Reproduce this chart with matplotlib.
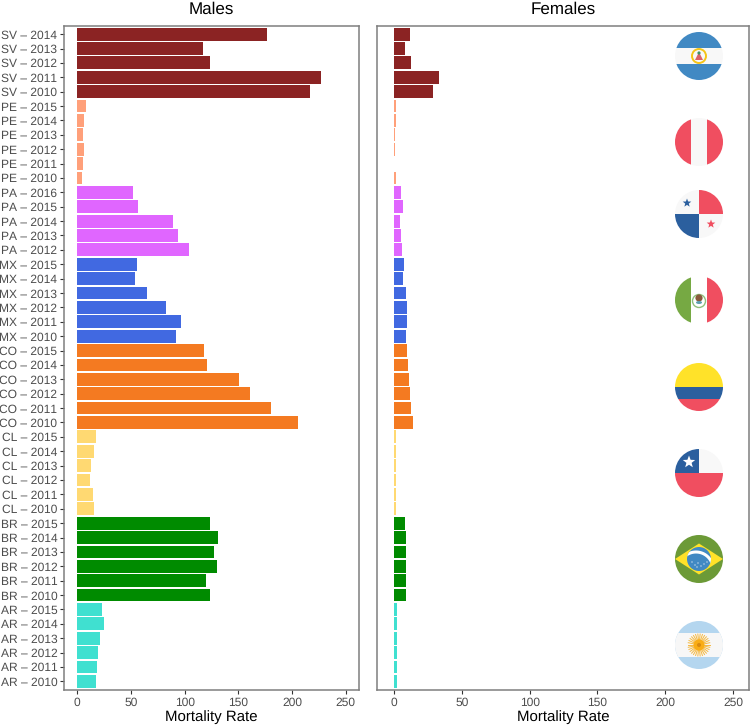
import numpy as np
import matplotlib
matplotlib.use("Agg")
import matplotlib.pyplot as plt
from matplotlib.patches import Circle, Rectangle, Polygon, Ellipse

plt.rcParams['font.family'] = ['Liberation Sans', 'DejaVu Sans']
plt.rcParams['text.hinting'] = 'no_hinting'
plt.rcParams['text.hinting_factor'] = 1

# top to bottom, as in the picture
countries = ["SV", "PE", "PA", "MX", "CO", "CL", "BR", "AR"]
colors = ["#8b2323", "#ffa07a", "#e066ff", "#4169e1",
          "#f47a21", "#ffd972", "#008b00", "#40e0d0"]
years = [
    [2014, 2013, 2012, 2011, 2010],
    [2015, 2014, 2013, 2012, 2011, 2010],
    [2016, 2015, 2014, 2013, 2012],
    [2015, 2014, 2013, 2012, 2011, 2010],
    [2015, 2014, 2013, 2012, 2011, 2010],
    [2015, 2014, 2013, 2012, 2011, 2010],
    [2015, 2014, 2013, 2012, 2011, 2010],
    [2015, 2014, 2013, 2012, 2011, 2010],
]
males = [
    [177, 117, 124, 227, 217],
    [8.5, 6, 5, 6.5, 5, 4.5],
    [52, 57, 89, 94, 104],
    [56, 54, 65, 83, 97, 92],
    [118, 121, 151, 161, 180, 206],
    [17, 16, 13, 12, 15, 15.5],
    [124, 131, 127, 130, 120, 124],
    [23, 24.5, 21, 19.5, 18, 17],
]
females = [
    [11.5, 8, 12.5, 33.5, 29],
    [1.2, 1.5, 0.8, 0.7, 0.3, 1.2],
    [5.5, 6.5, 4.5, 5, 6],
    [7.5, 7, 8.5, 9.5, 9.5, 8.5],
    [9.5, 10, 11, 11.5, 12.5, 14],
    [1.2, 1.3, 1.5, 1.4, 1.3, 1.3],
    [8, 8.5, 8.5, 8.5, 8.5, 8.5],
    [2.5, 2.5, 2, 2, 2.5, 2.5],
]

labels = [f"{c} \u2013 {y}" for c, ys in zip(countries, years) for y in ys]
bar_colors = [col for col, ys in zip(colors, years) for _ in ys]
male_vals = [v for vs in males for v in vs]
female_vals = [v for vs in females for v in vs]
rows = np.arange(len(labels))[::-1]

W, H = 750, 725
fig = plt.figure(figsize=(W / 100, H / 100), dpi=100)


def panel(x0, x1, xlim, vals, title, show_labels):
    ax = fig.add_axes([x0 / W, 1 - 690 / H, (x1 - x0) / W, (690 - 25.5) / H])
    ax.barh(rows, vals, height=0.89, color=bar_colors, linewidth=0)
    ax.set_xlim(*xlim)
    ax.set_ylim(-0.6, len(labels) - 0.4)
    ax.set_xticks([0, 50, 100, 150, 200, 250])
    ax.tick_params(axis="x", length=3, width=0.8, color="#333333",
                   labelcolor="#4d4d4d", labelsize=8.8, pad=2)
    if show_labels:
        ax.set_yticks(rows)
        ax.set_yticklabels(labels)
        ax.tick_params(axis="y", length=3, width=0.8, color="#333333",
                       labelcolor="#4d4d4d", labelsize=8.3, pad=2)
    else:
        ax.set_yticks([])
    for s in ax.spines.values():
        s.set_color("#7f7f7f")
        s.set_linewidth(1.1)
    ax.set_xlabel("Mortality Rate", fontsize=10.6, color="black", labelpad=1.5)
    ax.set_title(title, fontsize=12, color="black", pad=8.3)
    return ax


panel(64.4, 359, (-12, 262.4), male_vals, "Males", True)
panel(377.3, 749.3, (-12.3, 262), female_vals, "Females", False)

# --- flags, drawn on an overlay in pixel coordinates
ov = fig.add_axes([0, 0, 1, 1], zorder=5)
ov.set_xlim(0, W)
ov.set_ylim(H, 0)
ov.axis("off")
R = 24
cx = 699


def star(x, y, r, color, z=3):
    t = np.deg2rad(-90 + 36 * np.arange(10))
    rr = np.where(np.arange(10) % 2 == 0, r, r * 0.42)
    ov.add_patch(Polygon(np.c_[x + rr * np.cos(t), y + rr * np.sin(t)],
                         color=color, lw=0, zorder=z))


def flag(cy, shapes):
    clip = Circle((cx, cy), R, transform=ov.transData)
    for xy, w, h, c in shapes:
        r = Rectangle((cx + xy[0], cy + xy[1]), w, h, color=c, lw=0, zorder=2)
        ov.add_patch(r)
        r.set_clip_path(clip)


white = "#f8f8f8"
red = "#f04e60"
blue = "#2b5f9e"

# SV
flag(56, [((-R, -R), 2 * R, 16, "#4189c3"), ((-R, -8), 2 * R, 16, white),
          ((-R, 8), 2 * R, 16, "#4189c3")])
ov.add_patch(Circle((cx, 56), 7, fc="none", ec="#f5c518", lw=1.4, zorder=3))
ov.add_patch(Polygon([(cx - 4, 60), (cx + 4, 60), (cx, 52)], color="#d9626a", lw=0, zorder=3))
ov.add_patch(Circle((cx, 53), 1.6, color="#3f8f6a", lw=0, zorder=4))

# PE
flag(142, [((-R, -R), 16, 2 * R, red), ((-8, -R), 16, 2 * R, white),
           ((8, -R), 16, 2 * R, red)])

# PA
flag(214, [((-R, -R), R, R, white), ((0, -R), R, R, red),
           ((-R, 0), R, R, blue), ((0, 0), R, R, white)])
star(cx - 12, 203, 4.5, blue)
star(cx + 12, 224, 4.5, red)

# MX
flag(300, [((-R, -R), 16, 2 * R, "#76a943"), ((-8, -R), 16, 2 * R, "white"),
           ((8, -R), 16, 2 * R, red)])
ov.add_patch(Circle((cx, 301), 6.5, fc="none", ec="#8fbf7a", lw=1, zorder=3))
ov.add_patch(Circle((cx, 298), 3.6, color="#8a5a3c", lw=0, zorder=4))
ov.add_patch(Ellipse((cx, 302.5), 6, 3, color="#5c9fb0", lw=0, zorder=4))

# CO
flag(387, [((-R, -R), 2 * R, R, "#ffe229"), ((-R, 0), 2 * R, 12, blue),
           ((-R, 12), 2 * R, 12, red)])

# CL
flag(473, [((-R, -R), R, R, blue), ((0, -R), R, R, white),
           ((-R, 0), 2 * R, R, red)])
star(cx - 10, 462, 6.5, "white")

# BR
flag(559, [((-R, -R), 2 * R, 2 * R, "#6c9a37")])
d = Polygon([(cx - R, 559), (cx, 559 - 15.5), (cx + R, 559), (cx, 559 + 15.5)],
            color="#ffe229", lw=0, zorder=3)
ov.add_patch(d)
d.set_clip_path(Circle((cx, 559), R, transform=ov.transData))
ov.add_patch(Circle((cx, 559), 12, color="#4189c3", lw=0, zorder=4))
th = np.linspace(np.deg2rad(215), np.deg2rad(340), 40)
band = Circle((cx, 559), 12, transform=ov.transData)
ln, = ov.plot(cx - 3 + 17 * np.cos(th), 559 + 10 + 17 * np.sin(th),
              color="white", lw=2.2, zorder=5)
ln.set_clip_path(band)
for dx, dy in [(-7, 3), (-4, 6), (-1, 4), (2, 7), (5, 5), (8, 3), (-2, 8)]:
    ov.add_patch(Circle((cx + dx, 559 + dy), 0.6, color="white", lw=0, zorder=5))

# AR
flag(645, [((-R, -R), 2 * R, 2 * R, "#b4d6ef"), ((-R, -12), 2 * R, 24, "#f7f7f7")])
for a in np.deg2rad(np.arange(0, 360, 12)):
    ov.plot([cx, cx + 11 * np.cos(a)], [645, 645 + 11 * np.sin(a)],
            color="#f5b942", lw=0.7, zorder=3)
ov.add_patch(Circle((cx, 645), 5.5, color="#f9ad16", lw=0, zorder=4))
ov.add_patch(Circle((cx, 645), 2, color="#d98a10", lw=0, zorder=5))

fig.savefig("out.png", dpi=100)
